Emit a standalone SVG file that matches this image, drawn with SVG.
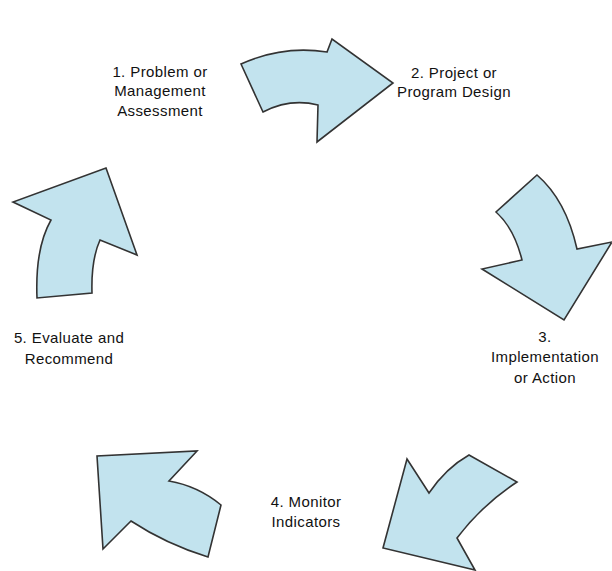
<svg xmlns="http://www.w3.org/2000/svg" width="612" height="571" viewBox="0 0 612 571">
<style>
.arr{fill:#c2e3ee;stroke:#333;stroke-width:1.6;stroke-linejoin:miter}
.t{font-family:"Liberation Sans",Arial,sans-serif;font-size:15px;fill:#111;text-anchor:middle;letter-spacing:0.4px}
</style>
<rect width="612" height="571" fill="#fff"/>
<g id="connectors">
<path id="arrow1" class="arr" d="M241,64 Q283,45 327,52 L332,39 L393,83 L317,142 L318,105 Q290,98 263,112 Z"/>
<path id="arrow2" class="arr" d="M537,175 Q566,200 577,249 L612,242 L564,320 L482,269 L522,260 Q514,228 496,212 Z"/>
<path id="arrow3" class="arr" d="M469,455 L517,482 Q482,505 457,538 L475,570 L383,548 L407,459 L429,493 Q446,468 469,455 Z"/>
<path id="arrow4" class="arr" d="M197,451 L169,481 Q198,486 221,505 L208,557 Q166,544 131,521 L103,549 L97,456 Z"/>
<path id="arrow5" class="arr" d="M106,168 L137,255 L100,240 Q91,260 92,293 L37,298 Q35,248 51,220 L13,202 Z"/>
</g>
<g id="node1"><text class="t" x="160" y="77">1. Problem or</text><text class="t" x="160" y="96">Management</text><text class="t" x="160" y="116">Assessment</text></g>
<g id="node2"><text class="t" x="454" y="78">2. Project or</text><text class="t" x="454" y="97">Program Design</text></g>
<g id="node3"><text class="t" x="545" y="342">3.</text><text class="t" x="545" y="362">Implementation</text><text class="t" x="545" y="383">or Action</text></g>
<g id="node4"><text class="t" x="306" y="507">4. Monitor</text><text class="t" x="306" y="527">Indicators</text></g>
<g id="node5"><text class="t" x="69" y="343">5. Evaluate and</text><text class="t" x="69" y="364">Recommend</text></g>
</svg>
